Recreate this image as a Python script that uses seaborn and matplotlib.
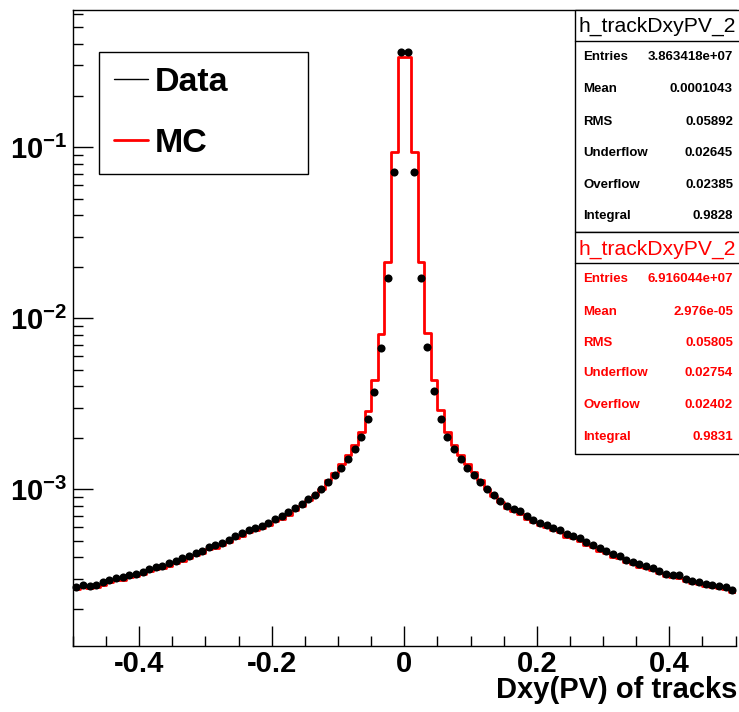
import numpy as np
import pandas as pd
import matplotlib
matplotlib.use("Agg")
import matplotlib.pyplot as plt
import seaborn as sns
from matplotlib.lines import Line2D
from matplotlib.patches import Rectangle
from matplotlib.ticker import FixedLocator, LogLocator, MultipleLocator, NullFormatter

# ---------------- data ----------------
x_min, x_max, n_bins = -0.5, 0.5, 100

data_vals = [
    2.68e-4, 2.77e-4, 2.72e-4, 2.77e-4, 2.85e-4, 2.94e-4, 3.02e-4, 3.05e-4, 3.15e-4, 3.21e-4,
    3.30e-4, 3.41e-4, 3.53e-4, 3.58e-4, 3.68e-4, 3.81e-4, 3.95e-4, 4.06e-4, 4.24e-4, 4.36e-4,
    4.60e-4, 4.70e-4, 4.88e-4, 5.08e-4, 5.33e-4, 5.53e-4, 5.78e-4, 5.92e-4, 6.10e-4, 6.33e-4,
    6.71e-4, 6.93e-4, 7.31e-4, 7.77e-4, 8.20e-4, 8.74e-4, 9.29e-4, 9.96e-4, 1.103e-3, 1.203e-3,
    1.339e-3, 1.492e-3, 1.714e-3, 2.009e-3, 2.560e-3, 3.707e-3, 6.705e-3, 1.707e-2, 7.172e-2, 0.3608,
    0.3608, 7.172e-2, 1.721e-2, 6.742e-3, 3.742e-3, 2.567e-3, 2.014e-3, 1.707e-3, 1.492e-3, 1.339e-3,
    1.216e-3, 1.099e-3, 1.003e-3, 9.26e-4, 8.54e-4, 8.03e-4, 7.67e-4, 7.41e-4, 6.95e-4, 6.65e-4,
    6.35e-4, 6.18e-4, 5.92e-4, 5.76e-4, 5.45e-4, 5.36e-4, 5.17e-4, 4.90e-4, 4.72e-4, 4.52e-4,
    4.36e-4, 4.17e-4, 4.06e-4, 3.88e-4, 3.74e-4, 3.64e-4, 3.55e-4, 3.45e-4, 3.33e-4, 3.21e-4,
    3.15e-4, 3.13e-4, 2.99e-4, 2.91e-4, 2.885e-4, 2.81e-4, 2.76e-4, 2.71e-4, 2.68e-4, 2.57e-4,
]

mc_vals = [
    2.60e-4, 2.69e-4, 2.64e-4, 2.69e-4, 2.76e-4, 2.85e-4, 2.93e-4, 2.96e-4, 3.06e-4, 3.11e-4,
    3.20e-4, 3.31e-4, 3.42e-4, 3.47e-4, 3.57e-4, 3.70e-4, 3.83e-4, 3.94e-4, 4.11e-4, 4.23e-4,
    4.46e-4, 4.56e-4, 4.73e-4, 4.93e-4, 5.17e-4, 5.36e-4, 5.61e-4, 5.74e-4, 5.92e-4, 6.14e-4,
    6.51e-4, 6.72e-4, 7.09e-4, 7.54e-4, 7.95e-4, 8.65e-4, 9.20e-4, 1.00e-3, 1.136e-3, 1.25e-3,
    1.41e-3, 1.58e-3, 1.81e-3, 2.15e-3, 2.86e-3, 4.34e-3, 8.05e-3, 2.13e-2, 9.31e-2, 0.335,
    0.335, 9.36e-2, 2.13e-2, 8.15e-3, 4.37e-3, 2.90e-3, 2.15e-3, 1.81e-3, 1.58e-3, 1.41e-3,
    1.26e-3, 1.13e-3, 1.00e-3, 9.17e-4, 8.37e-4, 7.79e-4, 7.44e-4, 7.19e-4, 6.74e-4, 6.45e-4,
    6.16e-4, 5.99e-4, 5.74e-4, 5.59e-4, 5.29e-4, 5.20e-4, 5.01e-4, 4.75e-4, 4.58e-4, 4.38e-4,
    4.23e-4, 4.04e-4, 3.94e-4, 3.76e-4, 3.63e-4, 3.53e-4, 3.44e-4, 3.35e-4, 3.23e-4, 3.11e-4,
    3.06e-4, 3.04e-4, 2.90e-4, 2.82e-4, 2.80e-4, 2.73e-4, 2.68e-4, 2.63e-4, 2.60e-4, 2.49e-4,
]

legend_labels = ["Data", "MC"]
x_tick_values = [-0.4, -0.2, 0.0, 0.2, 0.4]
x_tick_labels = ["-0.4", "-0.2", "0", "0.2", "0.4"]
y_tick_values = [1e-3, 1e-2, 1e-1]
y_tick_labels = [r"$10^{-3}$", r"$10^{-2}$", r"$10^{-1}$"]
x_label = "Dxy(PV) of tracks"

stat_title = "h_trackDxyPV_2"
stat_names = ["Entries", "Mean", "RMS", "Underflow", "Overflow", "Integral"]
stat_data = ["3.863418e+07", "0.0001043", "0.05892", "0.02645", "0.02385", "0.9828"]
stat_mc = ["6.916044e+07", "2.976e-05", "0.05805", "0.02754", "0.02402", "0.9831"]

# ---------------- style ----------------
sns.set_theme(style="white")
plt.rcParams["font.family"] = ["Liberation Sans", "DejaVu Sans"]
plt.rcParams["text.color"] = "black"
plt.rcParams["mathtext.fontset"] = "custom"
plt.rcParams["mathtext.rm"] = "Liberation Sans:bold"
plt.rcParams["mathtext.it"] = "Liberation Sans:bold"
plt.rcParams["mathtext.bf"] = "Liberation Sans:bold"
plt.rcParams["mathtext.default"] = "rm"

W, H = 739, 712
fig = plt.figure(figsize=(W / 100, H / 100), dpi=100)
fig.patch.set_facecolor("white")


def fx(px):
    return px / W


def fy(py):
    return 1 - py / H


ax_l, ax_r, ax_t, ax_b = 73, 735.5, 10, 645.5
ax = fig.add_axes([fx(ax_l), fy(ax_b), fx(ax_r) - fx(ax_l), fy(ax_t) - fy(ax_b)])
ax.set_facecolor("white")

edges = np.linspace(x_min, x_max, n_bins + 1)
centers = 0.5 * (edges[:-1] + edges[1:])
df = pd.DataFrame({"x": centers, "data": data_vals, "mc": mc_vals})

sns.histplot(data=df, x="x", weights="mc", bins=n_bins, binrange=(x_min, x_max),
             element="step", fill=False, color="#ff0000", linewidth=2, ax=ax, zorder=2)
sns.scatterplot(data=df, x="x", y="data", color="black", s=34, linewidth=0, ax=ax, zorder=3,
                clip_on=False)

ax.set_yscale("log")
ax.set_xlim(x_min, x_max)
ax.set_ylim(1.22e-4, 0.6326)
ax.set_xlabel("")
ax.set_ylabel("")

ax.xaxis.set_major_locator(FixedLocator(x_tick_values))
ax.set_xticklabels(x_tick_labels)
ax.xaxis.set_minor_locator(MultipleLocator(0.05))
ax.yaxis.set_major_locator(FixedLocator(y_tick_values))
ax.set_yticklabels(y_tick_labels)
ax.yaxis.set_minor_locator(LogLocator(base=10, subs=np.arange(2, 10)))
ax.yaxis.set_minor_formatter(NullFormatter())

ax.tick_params(axis="both", which="both", direction="in", colors="black", width=1,
               top=False, right=False, left=True, bottom=True)
ax.tick_params(axis="both", which="major", length=14.4)
ax.tick_params(axis="both", which="minor", length=7.2)
ax.tick_params(axis="x", which="major", pad=3, labelsize=21)
ax.tick_params(axis="y", which="major", pad=4, labelsize=21)
for lab in ax.get_xticklabels():
    lab.set_fontweight("bold")
for sp in ax.spines.values():
    sp.set_color("black")
    sp.set_linewidth(1)
ax.spines["right"].set_visible(False)

fig.text(fx(737), fy(698.5), x_label, ha="right", va="baseline",
         fontsize=21, fontweight="bold", color="black")

# legend
handles = [Line2D([], [], color="black", lw=1), Line2D([], [], color="#ff0000", lw=2)]
leg = ax.legend(handles, legend_labels, loc="upper left",
                bbox_to_anchor=(fx(99), fy(52), fx(308) - fx(99), 0.0),
                bbox_transform=fig.transFigure, mode="expand", borderaxespad=0,
                frameon=True, fancybox=False, edgecolor="black", framealpha=1,
                prop=dict(family="Liberation Sans", weight="bold", size=24.5),
                handlelength=1.0, handletextpad=0.2, labelspacing=0.86, borderpad=0.45)
leg.get_frame().set_linewidth(1)
for t in leg.get_texts():
    t.set_color("black")

# stat boxes
box_l, box_r = 575, 745


def stat_box(top, bottom, sep, title_y, rows_y, values, color):
    fig.add_artist(Rectangle((fx(box_l), fy(bottom)), fx(box_r) - fx(box_l), fy(top) - fy(bottom),
                             transform=fig.transFigure, facecolor="white", edgecolor="black",
                             lw=1, zorder=5))
    fig.add_artist(Line2D([fx(box_l), fx(box_r)], [fy(sep), fy(sep)], transform=fig.transFigure,
                          color="black", lw=1, zorder=6))
    fig.text(fx(657), fy(title_y), stat_title, ha="center", va="center",
             fontsize=15.2, color=color, zorder=7)
    for name, val, ry in zip(stat_names, values, rows_y):
        fig.text(fx(583), fy(ry), name, ha="left", va="center", fontsize=9.5,
                 fontweight="bold", color=color, zorder=7)
        fig.text(fx(733), fy(ry), val, ha="right", va="center", fontsize=9.5,
                 fontweight="bold", color=color, zorder=7)


stat_box(10, 232, 41, 26, [57.3, 89.3, 121.7, 153.3, 185, 216], stat_data, "black")
stat_box(232, 454, 263, 249, [279, 311.7, 343.3, 373.3, 405, 437.3], stat_mc, "#ff0000")

fig.savefig("out.png", dpi=100, facecolor="white")
